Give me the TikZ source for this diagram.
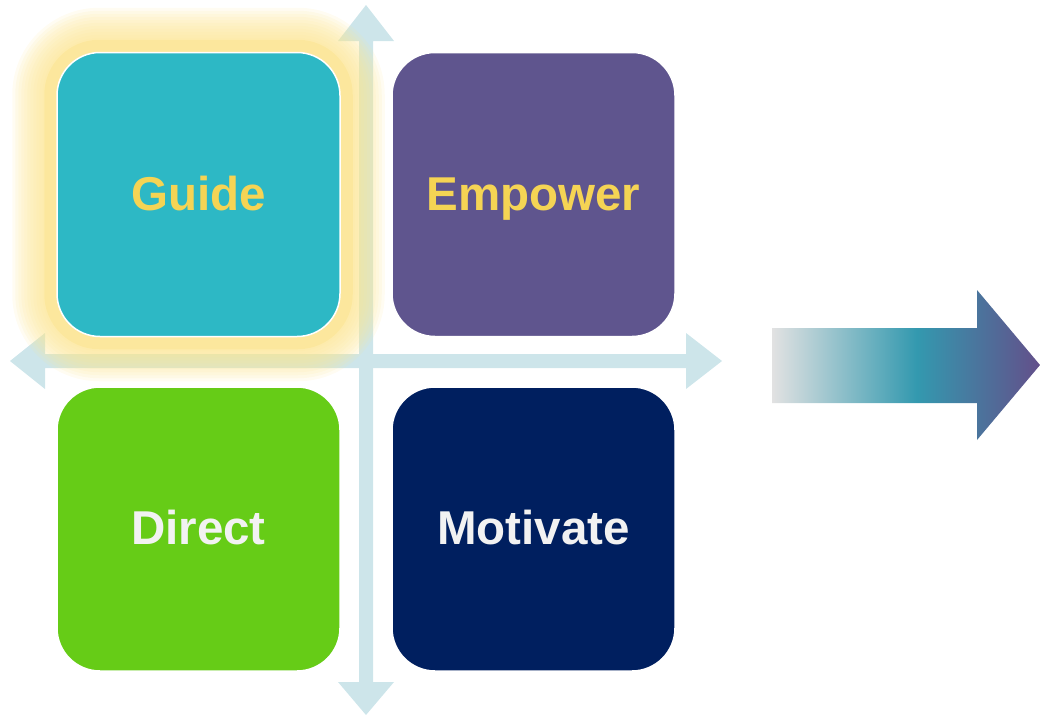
\documentclass[tikz,border=0pt]{standalone}
\usepackage{fontspec}
\setmainfont{Liberation Sans}
\definecolor{axisc}{HTML}{CDE5EA}
\definecolor{guidec}{HTML}{2DB8C5}
\definecolor{empowerc}{HTML}{5F558E}
\definecolor{directc}{HTML}{66CC17}
\definecolor{motivatec}{HTML}{001F5F}
\definecolor{yellowtxt}{HTML}{F5D454}
\definecolor{whitetxt}{HTML}{F2F2F2}
\definecolor{glowc}{HTML}{FCE593}
\definecolor{arrgrey}{HTML}{E2E2E2}
\definecolor{arrteal}{HTML}{3399AF}
\definecolor{arrpurple}{HTML}{634F8A}
\pgfdeclarehorizontalshading{arrowshade}{100bp}{color(0bp)=(arrgrey); color(25bp)=(arrgrey); color(52bp)=(arrteal); color(75bp)=(arrpurple); color(100bp)=(arrpurple)}
\begin{document}
\begin{tikzpicture}[x=1pt,y=-1pt,
  quad/.style={draw=white, line width=1.5pt, rounded corners=43pt,
    minimum width=283pt, minimum height=284pt, inner sep=0pt,
    font=\fontsize{47.5}{56}\selectfont\bfseries, text height=41pt, text depth=10pt},
  axisfill/.style={fill=axisc, draw=none}]
\useasboundingbox (0,0) rectangle (1041,715);
% axes
\fill[axisfill] (366,5) -- (394,41) -- (373,41) -- (373,682) -- (394,682) -- (366,715)
  -- (338,682) -- (359,682) -- (359,41) -- (338,41) -- cycle;
\fill[axisfill] (10,361) -- (45,333) -- (45,354) -- (686,354) -- (686,333) -- (722,361)
  -- (686,389) -- (686,368) -- (45,368) -- (45,389) -- cycle;
% boxes
\node[quad, fill=guidec, text=yellowtxt] (guide) at (198.5,194.5) {Guide};
% glow
\foreach \d [evaluate=\d as \r using 43+\d] in {44,41,...,14}
  \fill[glowc, opacity=0.12, rounded corners=\r pt]
    ([xshift=-\d pt, yshift=\d pt]guide.north west) rectangle ([xshift=\d pt, yshift=-\d pt]guide.south east);
\fill[glowc, opacity=0.6, rounded corners=55pt]
  ([xshift=-12pt, yshift=12pt]guide.north west) rectangle ([xshift=12pt, yshift=-12pt]guide.south east);
\node[quad, fill=guidec, text=yellowtxt] at (guide) {Guide};
\node[quad, fill=empowerc, text=yellowtxt] (empower) at (533.5,194.5) {Empower};
\node[quad, fill=directc, text=whitetxt] (direct) at (198.5,529) {Direct};
\node[quad, fill=motivatec, text=whitetxt] (motivate) at (533.5,529) {Motivate};
% gradient arrow
\shade[shading=arrowshade] (772,328) -- (977,328) -- (977,290) -- (1040,365) -- (977,440)
  -- (977,403) -- (772,403) -- cycle;
\end{tikzpicture}
\end{document}
